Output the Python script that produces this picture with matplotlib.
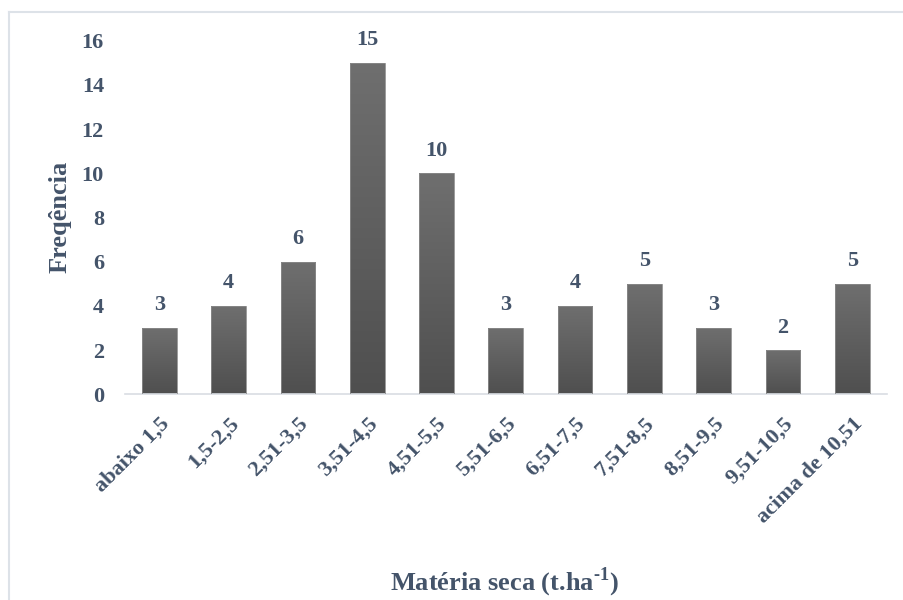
import numpy as np
from matplotlib import pyplot as plt
from matplotlib.colors import LinearSegmentedColormap
from matplotlib.lines import Line2D

# Frequency distribution of dry matter yield classes
classes = ['abaixo 1,5', '1,5-2,5', '2,51-3,5', '3,51-4,5', '4,51-5,5', '5,51-6,5',
           '6,51-7,5', '7,51-8,5', '8,51-9,5', '9,51-10,5', 'acima de 10,51']
freq = [3, 4, 6, 15, 10, 3, 4, 5, 3, 2, 5]
yticks = [0, 2, 4, 6, 8, 10, 12, 14, 16]

text_color = '#44546A'
plt.rcParams['font.family'] = ['Liberation Serif', 'DejaVu Serif']
plt.rcParams['font.weight'] = 'bold'
plt.rcParams['mathtext.fontset'] = 'custom'
plt.rcParams['mathtext.rm'] = 'Liberation Serif:bold'
plt.rcParams['mathtext.bf'] = 'Liberation Serif:bold'

fig = plt.figure(figsize=(9.04, 6.0), dpi=100)
ax = fig.add_axes([0.138, 0.343, 0.843, 0.589])

x = np.arange(len(classes))
bars = ax.bar(x, freq, width=0.5, color='none', edgecolor='#8a8a8a', linewidth=0.6, zorder=3)

# vertical grey gradient inside each bar
grad = np.linspace(0, 1, 256).reshape(-1, 1)
cmap = LinearSegmentedColormap.from_list('greys', ['#4f4f4f', '#6f6f6f'])
for b in bars:
    x0, y0 = b.get_x(), b.get_y()
    w, h = b.get_width(), b.get_height()
    im = ax.imshow(grad, extent=[x0, x0 + w, y0, y0 + h], origin='lower',
                   cmap=cmap, aspect='auto', zorder=2)
    im.set_clip_path(b)

for xi, v in zip(x, freq):
    ax.annotate(str(v), (xi, v), xytext=(0, 9), textcoords='offset points',
                ha='center', va='bottom', fontsize=16, fontweight='bold', color=text_color)

ax.set_xlim(-0.5, len(classes) - 0.5)
ax.set_ylim(0, 16)
ax.set_yticks(yticks)
ax.set_xticks(x)
ax.set_xticklabels(classes, rotation=45, ha='right', va='top', rotation_mode='anchor')
ax.tick_params(axis='both', length=0, labelsize=16, labelcolor=text_color)
ax.tick_params(axis='y', pad=15)
ax.tick_params(axis='x', pad=14)
for lab in ax.get_xticklabels() + ax.get_yticklabels():
    lab.set_fontweight('bold')

for s in ['top', 'right', 'left']:
    ax.spines[s].set_visible(False)
ax.spines['bottom'].set_color('#d9dde3')
ax.spines['bottom'].set_linewidth(1.2)

fig.text(0.066, 0.638, 'Freqência', rotation=90, ha='center', va='center',
         fontsize=19, fontweight='bold', color=text_color)
fig.text(0.558, 0.03, r'Matéria seca (t.ha$^{\text{-}1}$)', ha='center', va='center',
         fontsize=19, fontweight='bold', color=text_color)

# thin frame around the chart area
bx, by = 8.5 / 904, 1 - 11.5 / 600
fig.add_artist(Line2D([bx, bx], [0, by], color='#dde2e8', lw=1.5))
fig.add_artist(Line2D([bx, 1], [by, by], color='#dde2e8', lw=1.5))

fig.savefig('out.png', dpi=100)
